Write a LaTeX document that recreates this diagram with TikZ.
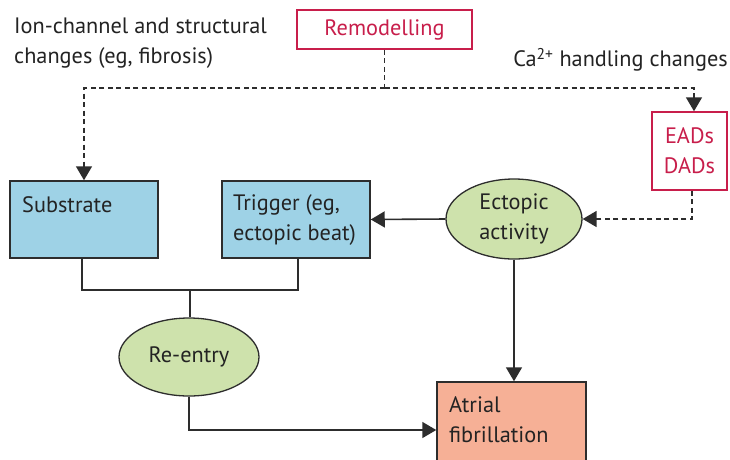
\documentclass[tikz,border=0pt]{standalone}
\usepackage{fontspec}
\setmainfont{PT Sans}
\usetikzlibrary{arrows.meta,shapes.geometric}
\definecolor{lred}{RGB}{200,30,75}
\definecolor{lblue}{RGB}{158,210,230}
\definecolor{lgreen}{RGB}{206,226,172}
\definecolor{lsalmon}{RGB}{246,176,150}
\definecolor{lline}{RGB}{45,45,45}
\definecolor{ltext}{RGB}{35,35,35}
\tikzset{
  txt/.style={font=\fontsize{22.3}{30}\selectfont, text=ltext, inner sep=0pt, align=left},
  redbox/.style={draw=lred, line width=1.5pt, fill=white, text=lred, font=\fontsize{22.3}{30}\selectfont, inner sep=0pt, align=center},
  bluebox/.style={draw=lline, line width=1.5pt, fill=lblue, inner sep=0pt},
  greenell/.style={ellipse, draw=lline, line width=1.3pt, fill=lgreen, inner sep=0pt, text=ltext, font=\fontsize{22.3}{30}\selectfont, align=center},
  salmonbox/.style={draw=lline, line width=1.5pt, fill=lsalmon, inner sep=0pt},
  conn/.style={draw=lline, line width=1.6pt},
  arr/.style={conn, -{Triangle[width=16pt,length=14pt]}},
  dconn/.style={conn, dash pattern=on 5pt off 3.5pt},
  darr/.style={dconn, -{Triangle[width=16pt,length=14pt]}}
}
\begin{document}
\begin{tikzpicture}[x=1pt,y=-1pt]
\clip (0,0) rectangle (730,459);
\fill[white] (0,0) rectangle (730,459);
% boxes
\node[redbox, minimum width=175pt, minimum height=39pt] (remod) at (384.5,29.5) {Remodelling};
\node[redbox, minimum width=75pt, minimum height=78pt] (ead) at (689.5,151) {EADs\\DADs};
\node[bluebox, minimum width=148pt, minimum height=77pt] (sub) at (84,219.5) {};
\node[bluebox, minimum width=148pt, minimum height=77pt] (trig) at (296,219.5) {};
\node[salmonbox, minimum width=149pt, minimum height=90pt] (af) at (511.5,427) {};
\node[greenell, minimum width=136pt, minimum height=80pt] (ect) at (514,219) {Ectopic\\activity};
\node[greenell, minimum width=140pt, minimum height=78pt] (re) at (189,357) {Re-entry};
% texts
\node[txt, anchor=west] (ion) at (14,43) {Ion-channel and structural\\changes (eg, fibrosis)};
\node[txt, anchor=east] (ca) at (728,60) {Ca\textsuperscript{2+} handling changes};
\node[txt, anchor=west] (subt) at (22,205) {Substrate};
\node[txt, anchor=west] (trigt) at (233,220) {Trigger (eg,\\ectopic beat)};
\node[txt, anchor=north west] (aft) at (449,396) {Atrial\\fibrillation};
% coordinates
\coordinate (d1) at (remod.south |- 0,88);
\coordinate (dl) at (sub.north |- 0,88);
\coordinate (dr) at (694,88);
\coordinate (ed) at (692,219);
\coordinate (j1) at (82,290);
\coordinate (j2) at (298,290);
\coordinate (j0) at (190,290);
\coordinate (r1) at (189,430);
% dashed connectors
\draw[dconn] (remod.south) -- (d1);
\draw[darr] (d1) -- (dl) -- (sub.north);
\draw[darr] (d1) -- (dr) -- (ead.north -| dr);
\draw[darr] (ead.south -| ed) -- (ed) -- (ect.east);
% solid connectors
\draw[arr] (ect.west) -- (trig.east);
\draw[conn] (sub.south -| j1) -- (j1) -- (j2) -- (trig.south -| j2);
\draw[conn] (j0) -- (re.north -| j0);
\draw[arr] (re.south) -- (r1) -- (af.west |- r1);
\draw[arr] (ect.south) -- (af.north -| ect.south);
\end{tikzpicture}
\end{document}
